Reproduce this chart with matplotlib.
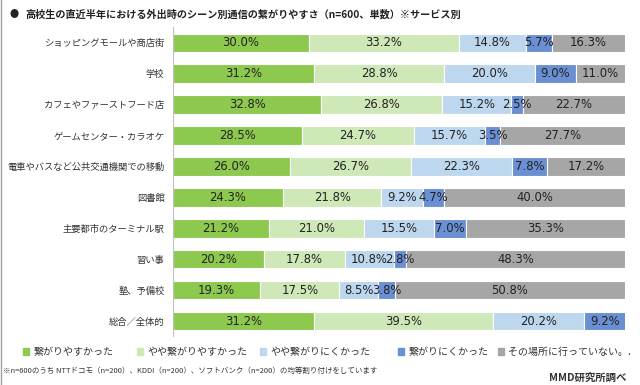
import matplotlib.pyplot as plt
from matplotlib.patches import Rectangle
from matplotlib.lines import Line2D

plt.rcParams['font.family'] = ['Noto Sans CJK JP', 'DejaVu Sans']

# scene categories, top to bottom
scenes = ['ショッピングモールや商店街', '学校', 'カフェやファーストフード店', 'ゲームセンター・カラオケ',
          '電車やバスなど公共交通機関での移動', '図書館', '主要都市のターミナル駅', '習い事',
          '塾、予備校', '総合／全体的']

easy = [30.0, 31.2, 32.8, 28.5, 26.0, 24.3, 21.2, 20.2, 19.3, 31.2]
fairly_easy = [33.2, 28.8, 26.8, 24.7, 26.7, 21.8, 21.0, 17.8, 17.5, 39.5]
fairly_hard = [14.8, 20.0, 15.2, 15.7, 22.3, 9.2, 15.5, 10.8, 8.5, 20.2]
hard = [5.7, 9.0, 2.5, 3.5, 7.8, 4.7, 7.0, 2.8, 3.8, 9.2]
not_been = [16.3, 11.0, 22.7, 27.7, 17.2, 40.0, 35.3, 48.3, 50.8, 0.0]

series = [easy, fairly_easy, fairly_hard, hard, not_been]
legend_labels = ['繋がりやすかった', 'やや繋がりやすかった', 'やや繋がりにくかった', '繋がりにくかった', 'その場所に行っていない。.']
colors = ['#8DC84F', '#CFE8B8', '#BDD7EE', '#6A8FD2', '#A6A6A6']

fig = plt.figure(figsize=(6.4, 3.85), dpi=100)
ax = fig.add_axes([0.27, 0.126, 0.707, 0.803])

ypos = list(range(len(scenes)))
left = [0.0] * len(scenes)
for vals, col in zip(series, colors):
    ax.barh(ypos, vals, left=left, height=0.6, color=col, edgecolor='white', linewidth=0.8)
    for y, v, l in zip(ypos, vals, left):
        if v > 0:
            ax.text(l + v / 2, y, f'{v:.1f}%', ha='center', va='center', fontsize=8.4,
                    family='DejaVu Sans', color='#222222')
    left = [a + b for a, b in zip(left, vals)]

ax.set_xlim(0, 100)
ax.set_ylim(len(scenes) - 0.5, -0.5)
ax.set_yticks(ypos)
ax.set_yticklabels(scenes, fontsize=6.7, color='#333333')
ax.tick_params(axis='y', length=0, pad=6)
ax.set_xticks([])
for s in ['top', 'right', 'bottom']:
    ax.spines[s].set_visible(False)
ax.spines['left'].set_color('#BFBFBF')

fig.text(0.015, 0.962, '●', fontsize=6.5, va='center', color='#222222')
fig.text(0.04, 0.962, '高校生の直近半年における外出時のシーン別通信の繋がりやすさ（n=600、単数）※サービス別',
         fontsize=7.3, fontweight='bold', va='center', color='#222222')

# legend
leg_x = [0.036, 0.214, 0.406, 0.622, 0.778]
for x, lab, col in zip(leg_x, legend_labels, colors):
    fig.patches.append(Rectangle((x, 0.079), 0.01, 0.017, transform=fig.transFigure, color=col))
    fig.text(x + 0.016, 0.087, lab, fontsize=7.2, va='center', color='#333333')

fig.text(0.005, 0.036, '※n=600のうち NTTドコモ（n=200）、KDDI（n=200）、ソフトバンク（n=200）の均等割り付けをしています',
         fontsize=5.4, va='center', color='#333333')
fig.text(0.978, 0.02, 'MMD研究所調べ', fontsize=7.5, fontweight='bold', ha='right', va='center', color='#333333')

fig.lines.append(Line2D([0.002, 0.002], [0, 1], transform=fig.transFigure, color='#A0A0A0', linewidth=1))

fig.savefig('out.png', dpi=100)
